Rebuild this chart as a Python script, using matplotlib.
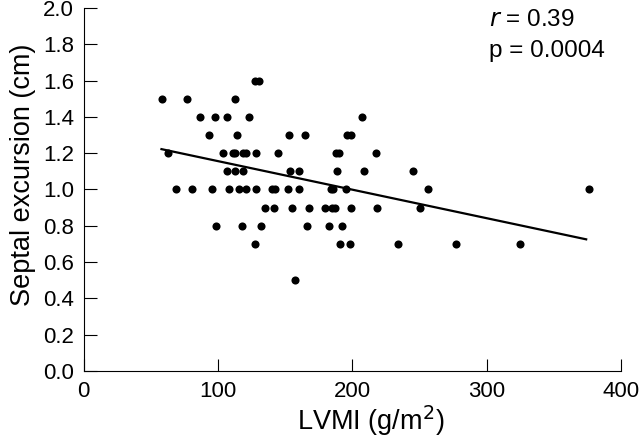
import matplotlib
matplotlib.use("Agg")
import matplotlib.pyplot as plt

plt.rcParams['font.family'] = ['Liberation Sans', 'DejaVu Sans']

# Data (LVMI in g/m^2, septal excursion in cm)
lvmi = [
    127.5, 130.5,
    58.6, 76.7, 112.6,
    86.6, 98, 107, 123.3, 207.3,
    93.5, 114, 153, 165, 195.7, 199,
    63, 103.5, 111, 112.5, 119, 121, 128, 144.4, 188, 190, 217.3,
    107, 112.5, 119, 153.5, 160, 188.7, 209, 245.5,
    68.8, 80.7, 95.5, 108, 115.5, 121, 128, 140.4, 142.6, 152.3, 160, 183.8, 185.7, 195, 256, 376.4,
    135, 142, 155, 168, 180, 185, 187, 199, 218.5, 250,
    98.3, 117.6, 132, 166, 183, 192.4,
    127.7, 190.5, 198.4, 234, 276.9, 325,
    157,
]
septal = (
    [1.6] * 2 + [1.5] * 3 + [1.4] * 5 + [1.3] * 6 + [1.2] * 11 + [1.1] * 8
    + [1.0] * 16 + [0.9] * 10 + [0.8] * 6 + [0.7] * 6 + [0.5] * 1
)

fit_x = [58, 374]
fit_y = [1.222, 0.725]

x_ticks = [0, 100, 200, 300, 400]
y_ticks = [0.0, 0.2, 0.4, 0.6, 0.8, 1.0, 1.2, 1.4, 1.6, 1.8, 2.0]

fig = plt.figure(figsize=(6.4, 4.4), dpi=100)
ax = fig.add_axes([0.1305, 0.157, 0.840, 0.825])

ax.scatter(lvmi, septal, s=34, color='black', zorder=3, linewidths=0)
ax.plot(fit_x, fit_y, color='black', lw=1.6, zorder=2)

ax.set_xlim(0, 400)
ax.set_ylim(0, 2.0)
ax.set_xticks(x_ticks)
ax.set_yticks(y_ticks)
ax.set_yticklabels([f"{v:.1f}" for v in y_ticks])
ax.tick_params(direction='in', length=9, width=0.8, labelsize=16, colors='black', pad=7)
for s in ['top', 'right']:
    ax.spines[s].set_visible(False)
for s in ['left', 'bottom']:
    ax.spines[s].set_linewidth(0.8)

ax.set_xlabel("LVMI (g/m$^2$)", fontsize=19.5, labelpad=1, x=0.534)
ax.set_ylabel("Septal excursion (cm)", fontsize=19.5, labelpad=5, y=0.54)

ax.text(302, 1.935, r"$\it{r}$ = 0.39", fontsize=17.5, va='center', ha='left')
ax.text(302, 1.76, "p = 0.0004", fontsize=17.5, va='center', ha='left')

fig.savefig("out.png", dpi=100)
